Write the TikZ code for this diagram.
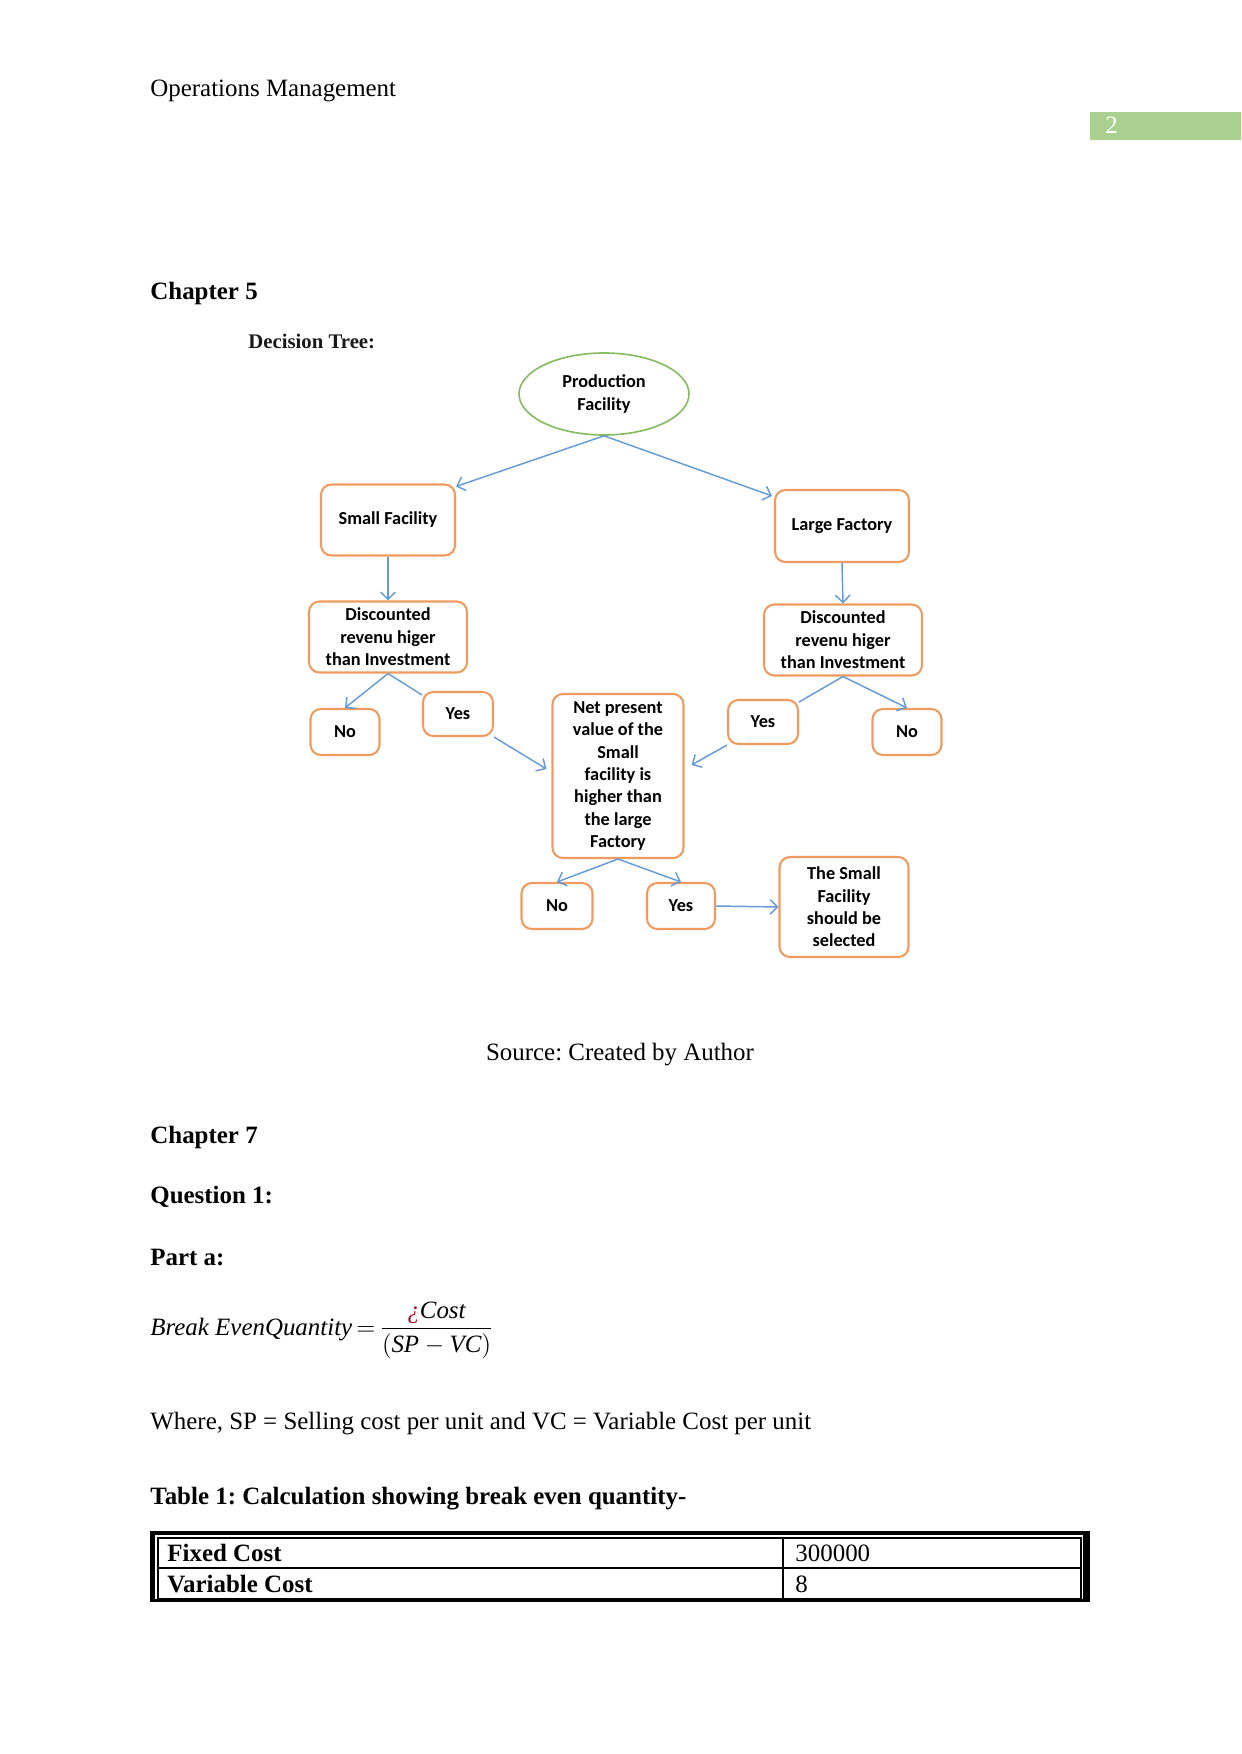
\documentclass[tikz,border=0pt]{standalone}
\usepackage{fontspec}
\setmainfont{Liberation Serif}
\newfontfamily\dfont{Carlito}
\usetikzlibrary{arrows.meta,shapes.geometric}
\definecolor{boxor}{RGB}{239,155,95}
\definecolor{ellgr}{RGB}{135,188,100}
\definecolor{arrbl}{RGB}{100,155,215}
\definecolor{pggr}{RGB}{169,208,142}
\definecolor{qred}{RGB}{165,20,40}
\def\dpx{0.169218mm}
\frenchspacing
\begin{document}
\begin{tikzpicture}[x=0.169218mm,y=-0.169218mm,
  body/.style={inner sep=0pt,font=\fontsize{12}{14}\selectfont},
  bodyb/.style={inner sep=0pt,font=\fontsize{12}{14}\selectfont\bfseries},
  dbox/.style={draw=boxor,line width=1pt,rounded corners=5pt,align=center,
    font=\dfont\bfseries\fontsize{8.8}{10.8}\selectfont,inner sep=0pt},
  ell/.style={draw=ellgr,line width=0.8pt,ellipse,align=center,
    font=\dfont\bfseries\fontsize{8.8}{10.8}\selectfont,inner sep=0pt},
  arr/.style={draw=arrbl,line width=0.7pt,-{Straight Barb[length=3.5pt,width=7pt]}},
  link/.style={draw=arrbl,line width=0.7pt},
  tline/.style={line width=0.8pt}]
\useasboundingbox (0,0) rectangle (1241,1754);

% header
\node[body,anchor=base west] (hdr) at (150,97) {Operations Management};
\fill[pggr] (1090,112) rectangle (1241,140);
\node[body,anchor=base west,text=white] (pgno) at (1105,134) {2};

\node[bodyb,anchor=base west] (ch5) at (150,300) {Chapter 5};
\node[inner sep=0pt,anchor=base west,font=\fontsize{10}{11}\selectfont\bfseries,text=black!90] (dt) at (248,349) {Decision Tree:};

% decision tree nodes
\node[ell,minimum width={170*\dpx},minimum height={82*\dpx}] (prod) at (604,394) {Production\\Facility};
\node[dbox,minimum width={134*\dpx},minimum height={71*\dpx}] (small) at (388,520) {Small Facility};
\node[dbox,minimum width={134*\dpx},minimum height={72*\dpx}] (large) at (842,526) {Large Factory};
\node[dbox,minimum width={158*\dpx},minimum height={71*\dpx}] (discL) at (388,637) {Discounted\\revenu higer\\than Investment};
\node[dbox,minimum width={158*\dpx},minimum height={71*\dpx}] (discR) at (843,640) {Discounted\\revenu higer\\than Investment};
\node[dbox,minimum width={69*\dpx},minimum height={46*\dpx}] (noL) at (345,732) {No};
\node[dbox,minimum width={70*\dpx},minimum height={44*\dpx}] (yesL) at (458,714) {Yes};
\node[dbox,minimum width={131*\dpx},minimum height={164*\dpx}] (net) at (618,776) {Net present\\value of the\\Small\\facility is\\higher than\\the large\\Factory};
\node[dbox,minimum width={70*\dpx},minimum height={44*\dpx}] (yesR) at (763,722) {Yes};
\node[dbox,minimum width={69*\dpx},minimum height={46*\dpx}] (noR) at (907,732) {No};
\node[dbox,minimum width={71*\dpx},minimum height={46*\dpx}] (noB) at (557,906) {No};
\node[dbox,minimum width={68*\dpx},minimum height={46*\dpx}] (yesB) at (681,906) {Yes};
\node[dbox,minimum width={129*\dpx},minimum height={100*\dpx}] (final) at (844,907) {The Small\\Facility\\should be\\selected};

% connectors
\draw[arr] (prod.south) -- ([shift={(0,3)}]small.north east);
\draw[arr] (prod.south) -- ([shift={(-2,7)}]large.north west);
\draw[arr] (small.south) -- (discL.north);
\draw[arr] (large.south) -- (discR.north);
\draw[arr] (discL.south) -- (noL.north);
\draw[link] (discL.south) -- ([shift={(0,4)}]yesL.north west);
\draw[arr] (yesL.south east) -- ([shift={(-5,-7)}]net.west);
\draw[link] (discR.south) -- ([shift={(0,3)}]yesR.north east);
\draw[arr] (discR.south) -- (noR.north);
\draw[arr] (yesR.south west) -- ([shift={(7,-11)}]net.east);
\draw[arr] (net.south) -- (noB.north);
\draw[arr] (net.south) -- (yesB.north);
\draw[arr] (yesB.east) -- (final.west);

\node[body,anchor=base] (src) at (620,1060) {Source: Created by Author};

\node[bodyb,anchor=base west] (ch7) at (150,1143) {Chapter 7};
\node[bodyb,anchor=base west] (q1) at (150,1203) {Question 1:};
\node[bodyb,anchor=base west] (pa) at (150,1265) {Part a:};

\node[body,anchor=base west] (form) at (150,1335)
  {$\textit{Break Even}\textit{Quantity}\,{=}\,\displaystyle\frac{\textcolor{qred}{\textit{¿}}\textit{Cost}}{\bigl(\textit{SP}-\textit{VC}\bigr)}$};

\node[body,anchor=base west] (where) at (150,1429) {Where, SP = Selling cost per unit and VC = Variable Cost per unit};
\node[bodyb,anchor=base west] (tcap) at (150,1504) {Table 1: Calculation showing break even quantity-};

% table
\fill (150,1531) rectangle (1090,1535);
\fill (150,1531) rectangle (155,1602);
\fill (1083,1531) rectangle (1090,1602);
\fill (150,1599) rectangle (1090,1602);
\draw[tline] (158,1538) rectangle (1081,1599);
\draw[tline] (158,1568) -- (1081,1568);
\draw[tline] (783,1538) -- (783,1599);
\node[bodyb,anchor=base west] (c11) at (167,1561) {Fixed Cost};
\node[body,anchor=base west] (c12) at (795,1561) {300000};
\node[bodyb,anchor=base west] (c21) at (167,1592) {Variable Cost};
\node[body,anchor=base west] (c22) at (795,1592) {8};
\end{tikzpicture}
\end{document}
